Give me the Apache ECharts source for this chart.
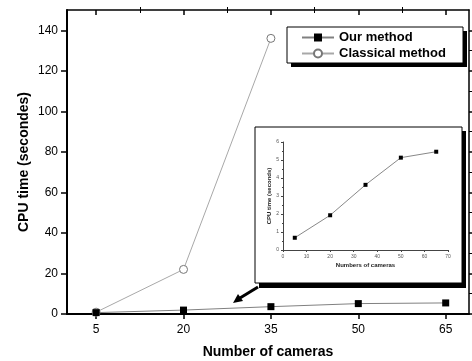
<!DOCTYPE html>
<html>
<head>
<meta charset="utf-8">
<script src="https://cdn.jsdelivr.net/npm/echarts@6/dist/echarts.min.js"></script>
<style>
  html, body { margin: 0; padding: 0; background: #fff; }
  #chart { width: 472px; height: 361px; }
</style>
</head>
<body>
<div id="chart"></div>
<script>
// data
const cameras = [5, 20, 35, 50, 65];
const ourMethod = [0.68, 1.93, 3.62, 5.13, 5.46];
const classicalCameras = [5, 20, 35];
const classical = [0.9, 22, 136];

const xTicks = [5, 20, 35, 50, 65];
const xMinorTicks = [12.5, 27.5, 42.5, 57.5];
const yTicks = [0, 20, 40, 60, 80, 100, 120, 140];
const yMinorTicks = [10, 30, 50, 70, 90, 110, 130];

const FONT = "Liberation Sans, Arial, sans-serif";

const chart = echarts.init(document.getElementById("chart"));

const pairs = (xs, ys) => xs.map((x, i) => [x, ys[i]]);

// helper for the plain tick-only axes (minor ticks, mirrored box sides)
function tickAxis(kind, extra) {
  return Object.assign({
    type: "value",
    gridIndex: 0,
    axisLine: { show: false, onZero: false },
    axisLabel: { show: false },
    splitLine: { show: false },
  }, kind === "x" ? { min: 0, max: 69 } : { min: 0, max: 150 }, extra);
}

chart.setOption({
  animation: false,
  backgroundColor: "#fff",
  textStyle: { fontFamily: FONT },

  grid: [
    { left: 67, right: 3, top: 10, bottom: 47, containLabel: false, outerBoundsMode: "none" },
    { left: 283, right: 24, top: 142, bottom: 111, containLabel: false, outerBoundsMode: "none" },
  ],

  legend: {
    orient: "vertical",
    left: 301,
    top: 31,
    padding: 0,
    itemWidth: 32,
    itemHeight: 10,
    itemGap: 3,
    textStyle: { fontFamily: FONT, fontWeight: "bold", fontSize: 13, color: "#000" },
    data: ["Our method", "Classical method"],
  },

  xAxis: [
    {
      type: "value",
      gridIndex: 0,
      min: 0,
      max: 69,
      name: "Number of cameras",
      nameLocation: "middle",
      nameGap: 31,
      nameMoveOverlap: false,
      nameTextStyle: { fontFamily: FONT, fontWeight: "bold", fontSize: 14, color: "#000" },
      axisLine: { onZero: false, lineStyle: { color: "#000", width: 2 } },
      axisTick: { customValues: xTicks, length: 5, lineStyle: { color: "#000", width: 1.5 } },
      axisLabel: { customValues: xTicks, color: "#000", fontSize: 12, margin: 10 },
      splitLine: { show: false },
    },
    tickAxis("x", { axisTick: { customValues: xMinorTicks, length: 3, lineStyle: { color: "#000" } } }),
    tickAxis("x", {
      position: "top",
      axisLine: { show: true, onZero: false, lineStyle: { color: "#000", width: 1.5 } },
      axisTick: { customValues: xTicks, inside: true, length: 5, lineStyle: { color: "#000", width: 1.5 } },
    }),
    tickAxis("x", {
      position: "top",
      axisTick: { customValues: xMinorTicks, inside: true, length: 3, lineStyle: { color: "#000" } },
    }),
    {
      type: "value",
      gridIndex: 1,
      min: 0,
      max: 70,
      interval: 10,
      name: "Numbers of cameras",
      nameLocation: "middle",
      nameGap: 12,
      nameTextStyle: { fontFamily: FONT, fontWeight: "bold", fontSize: 6, color: "#222" },
      axisLine: { onZero: false, lineStyle: { color: "#444", width: 1 } },
      axisTick: { length: 2, lineStyle: { color: "#444" } },
      minorTick: { show: true, splitNumber: 2, length: 1, lineStyle: { color: "#444" } },
      axisLabel: { color: "#555", fontSize: 5, margin: 4 },
      splitLine: { show: false },
    },
  ],

  yAxis: [
    {
      type: "value",
      gridIndex: 0,
      min: 0,
      max: 150,
      name: "CPU time (secondes)",
      nameLocation: "middle",
      nameGap: 36,
      nameMoveOverlap: false,
      nameTextStyle: { fontFamily: FONT, fontWeight: "bold", fontSize: 14, color: "#000" },
      axisLine: { onZero: false, lineStyle: { color: "#000", width: 2 } },
      axisTick: { customValues: yTicks, length: 6, lineStyle: { color: "#000", width: 1.5 } },
      axisLabel: { customValues: yTicks, color: "#000", fontSize: 12, margin: 9 },
      splitLine: { show: false },
    },
    tickAxis("y", { axisTick: { customValues: yMinorTicks, length: 3, lineStyle: { color: "#000" } } }),
    tickAxis("y", {
      position: "right",
      axisLine: { show: true, onZero: false, lineStyle: { color: "#000", width: 1.5 } },
      axisTick: { customValues: yTicks, length: 4, lineStyle: { color: "#000", width: 1.5 } },
    }),
    {
      type: "value",
      gridIndex: 1,
      min: 0,
      max: 6,
      interval: 1,
      name: "CPU time (seconds)",
      nameLocation: "middle",
      nameGap: 11,
      nameTextStyle: { fontFamily: FONT, fontWeight: "bold", fontSize: 6, color: "#222" },
      axisLine: { show: true, onZero: false, lineStyle: { color: "#444", width: 1 } },
      axisTick: { show: true, length: 2, lineStyle: { color: "#444" } },
      minorTick: { show: true, splitNumber: 2, length: 1, lineStyle: { color: "#444" } },
      axisLabel: { color: "#555", fontSize: 5, margin: 4 },
      splitLine: { show: false },
    },
  ],

  series: [
    {
      name: "Our method",
      type: "line",
      xAxisIndex: 0,
      yAxisIndex: 0,
      data: pairs(cameras, ourMethod),
      symbol: "rect",
      symbolSize: 7,
      lineStyle: { color: "#808080", width: 1 },
      itemStyle: { color: "#000", borderWidth: 0 },
      z: 3,
    },
    {
      name: "Classical method",
      type: "line",
      xAxisIndex: 0,
      yAxisIndex: 0,
      data: pairs(classicalCameras, classical),
      symbol: "circle",
      symbolSize: 8,
      lineStyle: { color: "#a8a8a8", width: 1 },
      itemStyle: { color: "#fff", borderColor: "#777", borderWidth: 1 },
      z: 2,
    },
    {
      name: "inset",
      type: "line",
      xAxisIndex: 4,
      yAxisIndex: 3,
      data: pairs(cameras, ourMethod),
      symbol: "rect",
      symbolSize: 4,
      lineStyle: { color: "#888", width: 1 },
      itemStyle: { color: "#000", borderWidth: 0 },
      z: 5,
    },
  ],

  graphic: [
    // legend box with offset shadow
    { type: "rect", z: -2, shape: { x: 291, y: 31, width: 176, height: 36 }, style: { fill: "#000" } },
    { type: "rect", z: -1, shape: { x: 287, y: 27, width: 176, height: 36 }, style: { fill: "#fff", stroke: "#000", lineWidth: 1 } },
    // inset box with offset shadow
    { type: "rect", z: -2, shape: { x: 259, y: 131, width: 207, height: 157 }, style: { fill: "#000" } },
    { type: "rect", z: -1, shape: { x: 255, y: 127, width: 207, height: 156 }, style: { fill: "#fff", stroke: "#000", lineWidth: 1 } },
    // arrow from inset to the curve
    { type: "line", z: 5, shape: { x1: 258, y1: 287, x2: 240, y2: 298 }, style: { stroke: "#000", lineWidth: 3 } },
    { type: "polygon", z: 5, shape: { points: [[233, 303], [243, 301], [238, 294]] }, style: { fill: "#000" } },
  ],
});
</script>
</body>
</html>
